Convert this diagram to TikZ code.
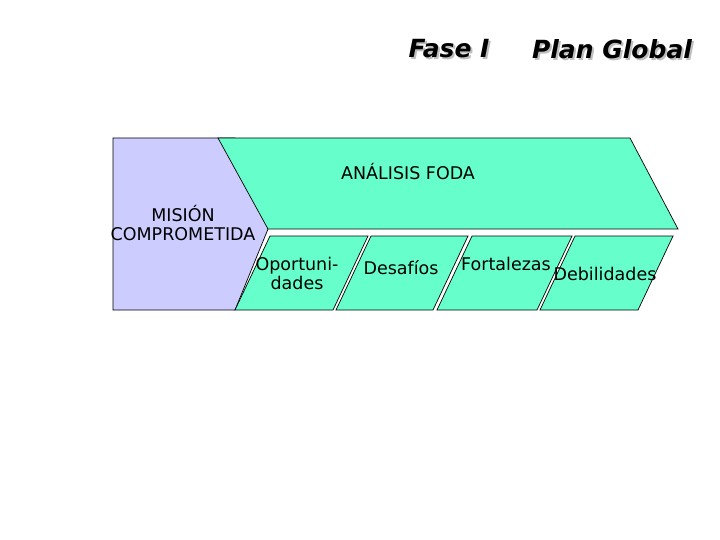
\documentclass[tikz,border=0pt]{standalone}
\usepackage{fontspec}
\setmainfont{DejaVu Sans}
\usetikzlibrary{positioning}
\definecolor{lila}{HTML}{CCCCFF}
\definecolor{menta}{HTML}{66FFCC}
\newcommand{\sombrado}[1]{\rlap{\hspace{2pt}\raisebox{-2pt}{\textcolor{gray!50}{#1}}}#1}
\tikzset{
  mision/.style={fill=lila, draw=black, line width=0.7pt},
  foda/.style={fill=menta, draw=black, line width=0.7pt},
  etiqueta/.style={font=\fontsize{17.5}{19}\selectfont, align=center, inner sep=0pt},
  titulo/.style={font=\fontsize{25}{28}\selectfont\bfseries\itshape, inner sep=0pt},
}

\begin{document}
\begin{tikzpicture}[x=1pt, y=-1pt]
  \useasboundingbox (0,0) rectangle (720,540);
  % titulo con sombra
  \node[titulo] (fase) at (449,50) {\sombrado{Fase I}};
  \node[titulo] (plan) at (612,50) {\sombrado{Plan Global}};
  % mision
  \draw[mision] (113,138) -- (235,138) -- (268,229) -- (235,310) -- (113,310) -- cycle;
  % analisis
  \draw[foda] (218,138) -- (630,138) -- (678,229) -- (268,229) -- cycle;
  % cuatro partes
  \foreach \xa/\xb in {270/368, 371/468, 472/572, 575/673}
    \draw[foda] (\xa,236) -- (\xb,236) -- (\xb-35,310) -- (\xa-35,310) -- cycle;
  \node[etiqueta] (foda) at (408,172) {ANÁLISIS FODA};
  \node[etiqueta] (mis) at (183,223) {MISIÓN\\COMPROMETIDA};
  \node[etiqueta] (opo) at (297,273) {Oportuni-\\dades};
  \node[etiqueta] (des) at (401,268) {Desafíos};
  \node[etiqueta] (fort) at (506,264) {Fortalezas};
  \node[etiqueta] (deb) at (605,274) {Debilidades};
\end{tikzpicture}
\end{document}
